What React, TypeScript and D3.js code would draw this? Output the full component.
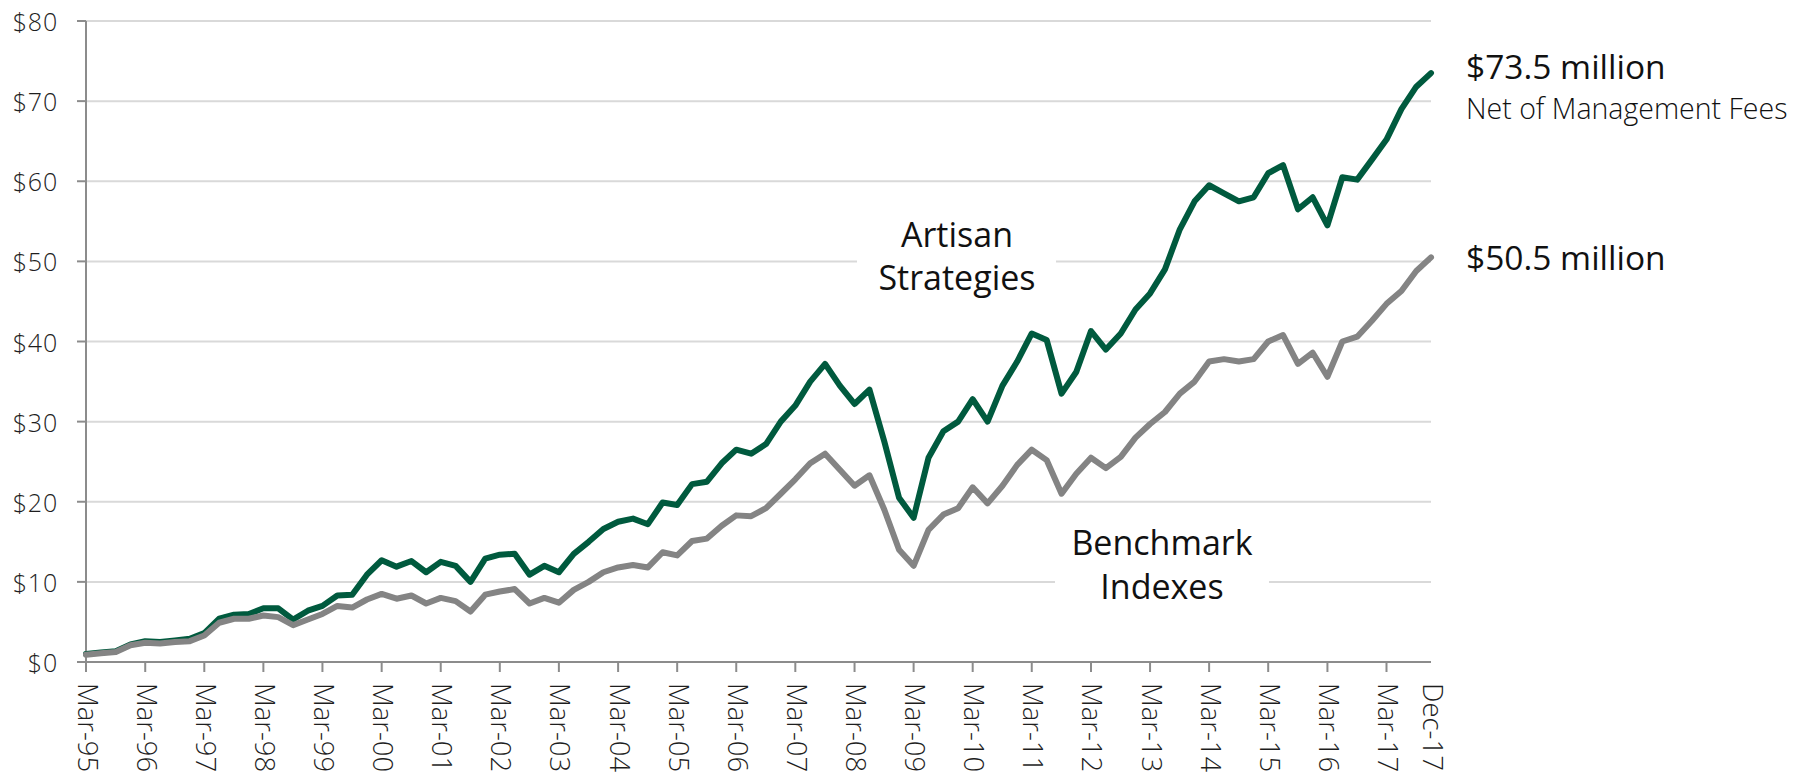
import { useEffect, useRef } from 'react'

import * as d3 from 'd3'

// quarterly growth of $1 million, Mar-95 .. Dec-17
const artisan = [
  1.0, 1.2, 1.35, 2.2, 2.6, 2.5, 2.7, 2.9, 3.6, 5.4, 5.9, 6.0, 6.7, 6.7, 5.3, 6.4,
  7.0, 8.3, 8.4, 10.9, 12.7, 11.9, 12.6, 11.2, 12.5, 12.0, 10.0, 12.9, 13.4, 13.5, 10.9, 12.0,
  11.2, 13.5, 15.0, 16.6, 17.5, 17.9, 17.2, 19.9, 19.6, 22.2, 22.5, 24.8, 26.5, 26.0, 27.2, 30.0,
  32.0, 35.0, 37.2, 34.5, 32.2, 34.0, 27.5, 20.5, 18.0, 25.5, 28.8, 30.0, 32.8, 30.0, 34.5, 37.5,
  41.0, 40.2, 33.5, 36.2, 41.3, 39.0, 41.0, 44.0, 46.0, 49.0, 54.0, 57.5, 59.5, 58.5, 57.5, 58.0,
  61.0, 62.0, 56.5, 58.0, 54.5, 60.5, 60.2, 62.7, 65.2, 69.0, 71.8, 73.5,
]

const benchmark = [
  0.9, 1.1, 1.25, 2.1, 2.4, 2.3, 2.5, 2.6, 3.3, 4.9, 5.4, 5.4, 5.8, 5.6, 4.6, 5.3,
  6.0, 7.0, 6.8, 7.8, 8.5, 7.9, 8.3, 7.3, 8.0, 7.6, 6.3, 8.4, 8.8, 9.1, 7.3, 8.0,
  7.4, 9.0, 10.0, 11.2, 11.8, 12.1, 11.8, 13.7, 13.3, 15.1, 15.4, 17.0, 18.3, 18.2, 19.2, 21.0,
  22.8, 24.8, 26.0, 24.0, 22.0, 23.3, 19.0, 14.0, 12.0, 16.5, 18.4, 19.2, 21.8, 19.8, 22.0, 24.6,
  26.5, 25.2, 21.0, 23.5, 25.5, 24.2, 25.6, 28.0, 29.7, 31.2, 33.5, 35.0, 37.5, 37.8, 37.5, 37.8,
  40.0, 40.8, 37.2, 38.6, 35.6, 40.0, 40.6, 42.6, 44.7, 46.3, 48.8, 50.5,
]

const xTickLabels = [
  'Mar-95', 'Mar-96', 'Mar-97', 'Mar-98', 'Mar-99', 'Mar-00', 'Mar-01', 'Mar-02',
  'Mar-03', 'Mar-04', 'Mar-05', 'Mar-06', 'Mar-07', 'Mar-08', 'Mar-09', 'Mar-10',
  'Mar-11', 'Mar-12', 'Mar-13', 'Mar-14', 'Mar-15', 'Mar-16', 'Mar-17', 'Dec-17',
]

const yTicks = [0, 10, 20, 30, 40, 50, 60, 70, 80]

const parseMonth = d3.timeParse('%b-%y')
const firstQuarter = parseMonth('Mar-95') as Date
const quarters = artisan.map((_, i) => d3.timeMonth.offset(firstQuarter, i * 3))

const GREEN = '#005a3e'
const GRAY = '#848484'
const AXIS = '#8c8c8c'
const GRID = '#d9d9d9'
const FONT = "'Open Sans', sans-serif"

function GrowthChart() {
  const ref = useRef<SVGSVGElement>(null)

  useEffect(() => {
    const left = 86,
      right = 1431,
      top = 21,
      bottom = 662

    const x = d3
      .scaleTime()
      .domain([quarters[0], quarters[quarters.length - 1]])
      .range([left, right])
    const y = d3.scaleLinear().domain([0, 80]).range([bottom, top])

    const svg = d3.select(ref.current)
    svg.selectAll('*').remove()

    svg.append('rect').attr('width', 1811).attr('height', 775).attr('fill', '#fff')

    // gridlines + y ticks
    svg
      .selectAll('line.grid')
      .data(yTicks.filter((d) => d > 0))
      .enter()
      .append('line')
      .attr('class', 'grid')
      .attr('x1', left)
      .attr('x2', right)
      .attr('y1', (d) => y(d))
      .attr('y2', (d) => y(d))
      .attr('stroke', GRID)
      .attr('stroke-width', 2)

    svg
      .selectAll('line.ytick')
      .data(yTicks)
      .enter()
      .append('line')
      .attr('class', 'ytick')
      .attr('x1', left - 9)
      .attr('x2', left)
      .attr('y1', (d) => y(d))
      .attr('y2', (d) => y(d))
      .attr('stroke', AXIS)
      .attr('stroke-width', 2)

    svg
      .selectAll('text.ylab')
      .data(yTicks)
      .enter()
      .append('text')
      .attr('class', 'ylab')
      .attr('x', 58)
      .attr('y', (d) => y(d))
      .attr('text-anchor', 'end')
      .attr('dominant-baseline', 'central')
      .attr('font-family', FONT)
      .attr('font-weight', 300)
      .attr('font-size', 25)
      .attr('letter-spacing', 0.8)
      .attr('fill', '#1e1e1e')
      .text((d) => '$' + d)

    // axes
    svg
      .append('line')
      .attr('x1', left)
      .attr('x2', left)
      .attr('y1', top)
      .attr('y2', bottom + 10)
      .attr('stroke', AXIS)
      .attr('stroke-width', 2)
    svg
      .append('line')
      .attr('x1', left - 9)
      .attr('x2', right)
      .attr('y1', bottom)
      .attr('y2', bottom)
      .attr('stroke', AXIS)
      .attr('stroke-width', 2)

    const tickDates = xTickLabels.map((d) => parseMonth(d) as Date)

    svg
      .selectAll('line.xtick')
      .data(tickDates.filter((d) => d.getMonth() === 2))
      .enter()
      .append('line')
      .attr('class', 'xtick')
      .attr('x1', (d) => x(d))
      .attr('x2', (d) => x(d))
      .attr('y1', bottom)
      .attr('y2', bottom + 10)
      .attr('stroke', AXIS)
      .attr('stroke-width', 2)

    svg
      .selectAll('text.xlab')
      .data(xTickLabels)
      .enter()
      .append('text')
      .attr('class', 'xlab')
      .attr('transform', (d, i) => 'translate(' + (x(tickDates[i]) + 2) + ',683) rotate(90)')
      .attr('dominant-baseline', 'central')
      .attr('font-family', FONT)
      .attr('font-weight', 300)
      .attr('font-size', 27.5)
      .attr('fill', '#1e1e1e')
      .text((d) => d)

    // white boxes behind the in-plot labels
    svg.append('rect').attr('x', 857).attr('y', 205).attr('width', 199).attr('height', 95).attr('fill', '#fff')
    svg.append('rect').attr('x', 1055).attr('y', 520).attr('width', 214).attr('height', 92).attr('fill', '#fff')

    const line = d3
      .line<number>()
      .x((_, i) => x(quarters[i]))
      .y((d) => y(d))

    svg
      .selectAll('path.series')
      .data([
        { values: artisan, color: GREEN },
        { values: benchmark, color: GRAY },
      ])
      .enter()
      .append('path')
      .attr('class', 'series')
      .attr('d', (d) => line(d.values))
      .attr('fill', 'none')
      .attr('stroke', (d) => d.color)
      .attr('stroke-width', 6)
      .attr('stroke-linejoin', 'round')
      .attr('stroke-linecap', 'round')

    const label = (txt: string, lx: number, ly: number, size: number, anchor: string, weight = 400) =>
      svg
        .append('text')
        .attr('x', lx)
        .attr('y', ly)
        .attr('text-anchor', anchor)
        .attr('font-family', FONT)
        .attr('font-size', size)
        .attr('font-weight', weight)
        .attr('fill', '#111')
        .text(txt)

    label('Artisan', 957, 247, 34, 'middle')
    label('Strategies', 957, 290, 34, 'middle')
    label('Benchmark', 1162, 555, 34, 'middle')
    label('Indexes', 1162, 599, 34, 'middle')

    label('$73.5 million', 1466, 79, 33.5, 'start')
    label('Net of Management Fees', 1466, 119, 28.5, 'start', 300)
    label('$50.5 million', 1466, 270, 33.5, 'start')
  }, [])

  return (
    <svg ref={ref} width={1811} height={775} style={{ position: 'absolute', left: 0, top: 0 }}></svg>
  )
}

export default function App() {
  return <GrowthChart />
}
